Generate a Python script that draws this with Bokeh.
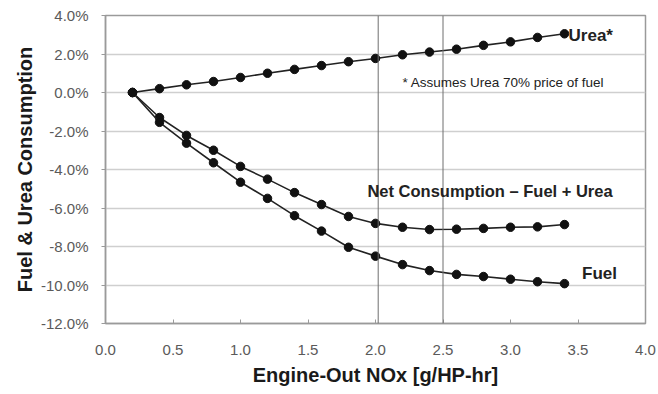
from bokeh.plotting import figure
from bokeh.models import Span, Label, FixedTicker, PrintfTickFormatter, Range1d
from bokeh.embed import file_html
from bokeh.resources import INLINE

nox = [0.2, 0.4, 0.6, 0.8, 1.0, 1.2, 1.4, 1.6, 1.8, 2.0, 2.2, 2.4, 2.6, 2.8, 3.0, 3.2, 3.4]
urea = [0.0, 0.2, 0.4, 0.57, 0.78, 1.0, 1.2, 1.4, 1.6, 1.77, 1.96, 2.1, 2.25, 2.45, 2.63, 2.86, 3.05]
net = [0.0, -1.3, -2.23, -3.0, -3.84, -4.5, -5.2, -5.82, -6.44, -6.8, -7.0, -7.12, -7.1, -7.06, -7.0, -6.98, -6.86]
fuel = [0.0, -1.55, -2.63, -3.65, -4.66, -5.5, -6.4, -7.2, -8.04, -8.5, -8.94, -9.25, -9.45, -9.56, -9.7, -9.83, -9.93]
x_ticks = [0.0, 0.5, 1.0, 1.5, 2.0, 2.5, 3.0, 3.5, 4.0]
y_ticks = [-12, -10, -8, -6, -4, -2, 0, 2, 4]
ref_lines = [2.02, 2.5]

p = figure(width=658, height=394, output_backend="svg", toolbar_location=None,
           x_range=Range1d(0, 4), y_range=Range1d(-12, 4),
           min_border_left=105, min_border_right=13, min_border_top=15, min_border_bottom=71)
p.background_fill_color = "white"
p.border_fill_color = "white"
p.outline_line_color = "#9a9a9a"
p.outline_line_width = 1.5

p.xgrid.grid_line_color = None
p.ygrid.grid_line_color = "#cfcfcf"
p.ygrid.grid_line_width = 1.5
p.ygrid.ticker = FixedTicker(ticks=y_ticks)

p.xaxis.ticker = FixedTicker(ticks=x_ticks)
p.yaxis.ticker = FixedTicker(ticks=y_ticks)
p.xaxis.formatter = PrintfTickFormatter(format="%.1f")
p.yaxis.formatter = PrintfTickFormatter(format="%.1f%%")
for ax in (p.xaxis, p.yaxis):
    ax.axis_line_color = "#9a9a9a"
    ax.axis_line_width = 1.5
    ax.major_tick_line_color = "#9a9a9a"
    ax.minor_tick_line_color = None
    ax.major_label_text_color = "#5a5a5a"
    ax.major_label_text_font = "Liberation Sans"
    ax.major_label_text_font_size = "15px"
    ax.axis_label_text_font = "Liberation Sans"
    ax.axis_label_text_font_style = "bold"
    ax.axis_label_text_font_size = "20px"
    ax.axis_label_text_color = "#1a1a1a"
p.xaxis.major_tick_in = 4
p.xaxis.major_tick_out = 0
p.yaxis.major_tick_in = 0
p.yaxis.major_tick_out = 4
p.xaxis.major_label_standoff = 21
p.yaxis.major_label_standoff = 13
p.xaxis.axis_label = "Engine-Out NOx [g/HP-hr]"
p.yaxis.axis_label = "Fuel & Urea Consumption"
p.xaxis.axis_label_standoff = 6
p.yaxis.axis_label_standoff = 2

for xv in ref_lines:
    p.add_layout(Span(location=xv, dimension="height", line_color="#6e6e6e", line_width=1))

for ys in (urea, net, fuel):
    p.line(nox, ys, line_color="#222222", line_width=1.6)
    p.scatter(nox, ys, size=8.5, fill_color="#111111", line_color="#111111")

p.add_layout(Label(x=3.43, y=2.95, text="Urea*", text_font="Liberation Sans", text_font_style="bold",
                   text_font_size="17px", text_color="#222222", text_baseline="middle"))
p.add_layout(Label(x=2.2, y=0.5, text="* Assumes Urea 70% price of fuel", text_font="Liberation Sans",
                   text_font_size="13.5px", text_color="#222222", text_baseline="middle"))
p.add_layout(Label(x=1.94, y=-5.12, text="Net Consumption \u2013 Fuel + Urea", text_font="Liberation Sans",
                   text_font_style="bold", text_font_size="16.5px", text_color="#222222", text_baseline="middle"))
p.add_layout(Label(x=3.53, y=-9.4, text="Fuel", text_font="Liberation Sans", text_font_style="bold",
                   text_font_size="17px", text_color="#222222", text_baseline="middle"))

open("out.html", "w").write(file_html(p, INLINE))
